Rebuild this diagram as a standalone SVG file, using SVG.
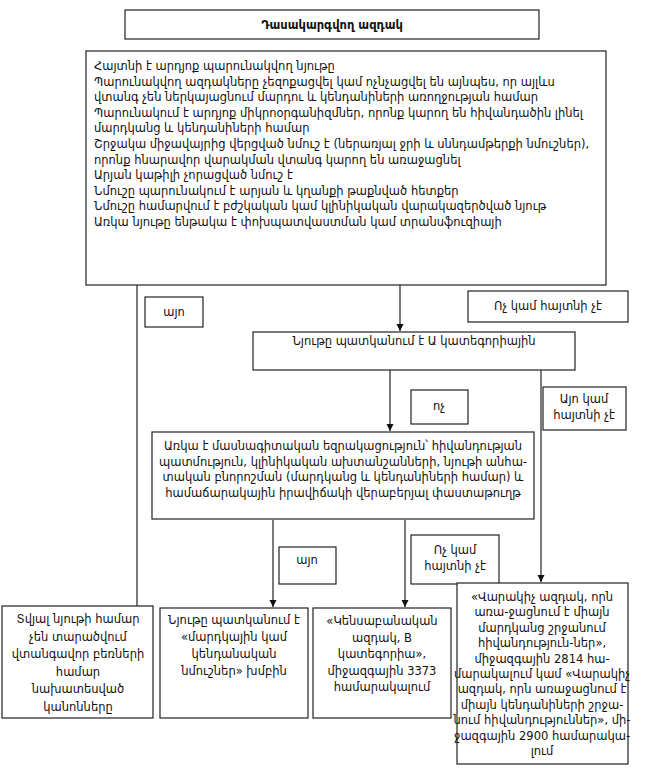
<svg xmlns="http://www.w3.org/2000/svg" width="652" height="780" viewBox="0 0 652 780">
<style>
.b{fill:#fff;stroke:#222;stroke-width:1.2}
.t{font-family:"DejaVu Sans","Noto Sans",sans-serif;font-size:11.5px;fill:#111}
.c{text-anchor:middle}
.l{stroke:#222;stroke-width:1.2;fill:none}
</style>
<defs>
<marker id="ah" markerWidth="8" markerHeight="8" refX="7" refY="4" orient="auto" markerUnits="userSpaceOnUse"><path d="M0,0.5 L7,4 L0,7.5 Z" fill="#111"/></marker>
</defs>
<rect width="652" height="780" fill="#fff"/>
<g id="connectors">
<path class="l" d="M400,285 V331" marker-end="url(#ah)"/>
<path class="l" d="M137,285 V606"/>
<path class="l" d="M390,370 V431" marker-end="url(#ah)"/>
<path class="l" d="M541,370 V582" marker-end="url(#ah)"/>
<path class="l" d="M273,520 V607" marker-end="url(#ah)"/>
<path class="l" d="M405,520 V607" marker-end="url(#ah)"/>
</g>
<g id="title"><rect class="b" x="125" y="10" width="414" height="29"/><text class="t c" x="332" y="29" font-weight="bold" font-size="13.5">Դասակարգվող ազդակ</text></g>
<g id="main">
<rect class="b" x="86" y="51" width="520" height="234"/>
<text class="t" x="94" y="70">Հայտնի է արդյոք պարունակվող նյութը</text>
<text class="t" x="94" y="85.6">Պարունակվող ազդակները չեզոքացվել կամ ոչնչացվել են այնպես, որ այլևս</text>
<text class="t" x="94" y="101.2">վտանգ չեն ներկայացնում մարդու և կենդանիների առողջության համար</text>
<text class="t" x="94" y="116.8">Պարունակում է արդյոք միկրոօրգանիզմներ, որոնք կարող են հիվանդածին լինել</text>
<text class="t" x="94" y="132.4">մարդկանց և կենդանիների համար</text>
<text class="t" x="94" y="148">Շրջակա միջավայրից վերցված նմուշ է (ներառյալ ջրի և սննդամթերքի նմուշներ),</text>
<text class="t" x="94" y="163.6">որոնք հնարավոր վարակման վտանգ կարող են առաջացնել</text>
<text class="t" x="94" y="179.2">Արյան կաթիլի չորացված նմուշ է</text>
<text class="t" x="94" y="194.8">Նմուշը պարունակում է արյան և կղանքի թաքնված հետքեր</text>
<text class="t" x="94" y="210.4">Նմուշը համարվում է բժշկական կամ կլինիկական վարակազերծված նյութ</text>
<text class="t" x="94" y="226">Առկա նյութը ենթակա է փոխպատվաստման կամ տրանսֆուզիայի</text>
</g>
<g id="lbl-yes1"><rect class="b" x="145" y="297" width="58" height="30"/><text class="t c" x="174" y="316">այո</text></g>
<g id="lbl-no1"><rect class="b" x="468" y="291" width="160" height="31"/><text class="t c" x="548" y="310">Ոչ կամ հայտնի չէ</text></g>
<g id="catA"><rect class="b" x="253" y="332" width="322" height="38"/><text class="t c" x="414" y="345">Նյութը պատկանում է Ա կատեգորիային</text></g>
<g id="lbl-no2"><rect class="b" x="411" y="390" width="57" height="34"/><text class="t c" x="439" y="410">ոչ</text></g>
<g id="lbl-yes2"><rect class="b" x="543" y="387" width="83" height="43"/><text class="t c" x="584" y="403">Այո կամ</text><text class="t c" x="584" y="419">հայտնի չէ</text></g>
<g id="expert">
<rect class="b" x="152" y="432" width="382" height="87"/>
<text class="t c" x="343" y="450">Առկա է մասնագիտական եզրակացություն՝ հիվանդության</text>
<text class="t c" x="343" y="465.5">պատմություն, կլինիկական ախտանշանների, նյութի անհա-</text>
<text class="t c" x="343" y="481">տական բնորոշման (մարդկանց և կենդանիների համար) և</text>
<text class="t c" x="343" y="496.5">համաճարակային իրավիճակի վերաբերյալ փաստաթուղթ</text>
</g>
<g id="lbl-yes3"><rect class="b" x="279" y="547" width="57" height="37"/><text class="t c" x="307" y="564">այո</text></g>
<g id="lbl-no3"><rect class="b" x="411" y="535" width="88" height="49"/><text class="t c" x="455" y="554">Ոչ կամ</text><text class="t c" x="455" y="570">հայտնի չէ</text></g>
<g id="exempt">
<rect class="b" x="2" y="606" width="151" height="112"/>
<text class="t c" x="78" y="623">Տվյալ նյութի համար</text>
<text class="t c" x="78" y="640.5">չեն տարածվում</text>
<text class="t c" x="78" y="658">վտանգավոր բեռների</text>
<text class="t c" x="78" y="675.5">համար</text>
<text class="t c" x="78" y="693">նախատեսված</text>
<text class="t c" x="78" y="710.5">կանոնները</text>
</g>
<g id="human-animal">
<rect class="b" x="160" y="608" width="148" height="110"/>
<text class="t c" x="234" y="624">Նյութը պատկանում է</text>
<text class="t c" x="234" y="641">«մարդկային կամ</text>
<text class="t c" x="234" y="658">կենդանական</text>
<text class="t c" x="234" y="675">նմուշներ» խմբին</text>
</g>
<g id="catB">
<rect class="b" x="313" y="608" width="138" height="110"/>
<text class="t c" x="382" y="625">«Կենսաբանական</text>
<text class="t c" x="382" y="641.5">ազդակ, B</text>
<text class="t c" x="382" y="658">կատեգորիա»,</text>
<text class="t c" x="382" y="674.5">միջազգային 3373</text>
<text class="t c" x="382" y="691">համարակալում</text>
</g>
<g id="infectious">
<rect class="b" x="457" y="583" width="171" height="181"/>
<text class="t c" x="542" y="601">«Վարակիչ ազդակ, որն</text>
<text class="t c" x="542" y="616.4">առա-ջացնում է միայն</text>
<text class="t c" x="542" y="631.8">մարդկանց շրջանում</text>
<text class="t c" x="542" y="647.2">հիվանդություն-ներ»,</text>
<text class="t c" x="542" y="662.6">միջազգային 2814  հա-</text>
<text class="t c" x="542" y="678">մարակալում կամ «Վարակիչ</text>
<text class="t c" x="542" y="693.4">ազդակ, որն առաջացնում է</text>
<text class="t c" x="542" y="708.8">միայն կենդանիների շրջա-</text>
<text class="t c" x="542" y="724.2">նում հիվանդություններ», մի-</text>
<text class="t c" x="542" y="739.6">ջազգային 2900 համարակա-</text>
<text class="t c" x="542" y="755">լում</text>
</g>
</svg>
